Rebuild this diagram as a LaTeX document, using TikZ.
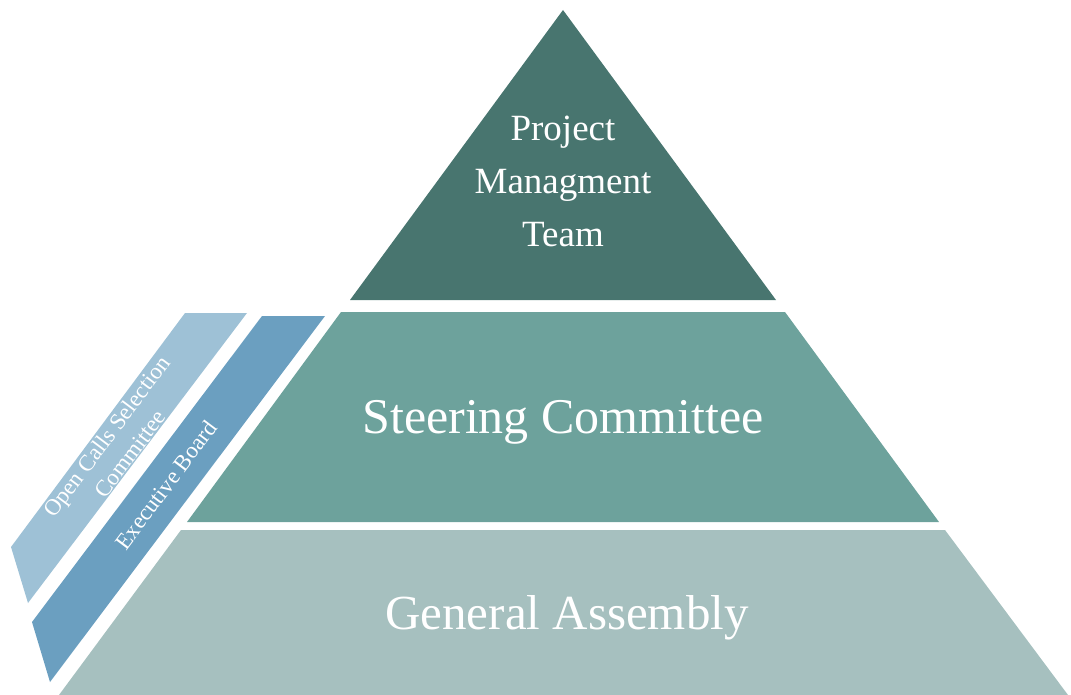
\documentclass[tikz,border=0pt]{standalone}
\usepackage{fontspec}
\setmainfont{Liberation Serif}
\definecolor{pmtc}{HTML}{48756F}
\definecolor{scc}{HTML}{6DA29C}
\definecolor{gac}{HTML}{A6C0BF}
\definecolor{occ}{HTML}{9EC1D6}
\definecolor{ebc}{HTML}{6B9FC0}
\begin{document}
\begin{tikzpicture}[x=1pt,y=-1pt,
  lbl/.style={text=white, inner sep=0pt, align=center},
  stripfont/.style={font=\fontsize{23}{29}\selectfont, rotate=53.13}]
\useasboundingbox (0,0) rectangle (1071,695);
% pyramid levels
\fill[pmtc] (563,10) -- (776,300) -- (350,300) -- cycle;
\fill[scc] (341,312) -- (785,312) -- (939,522) -- (187,522) -- cycle;
\fill[gac] (181,530) -- (945,530) -- (1068,695) -- (59,695) -- cycle;
% side strips
\fill[occ] (185,313) -- (247,313) -- (28,603) -- (11,547) -- cycle;
\fill[ebc] (262,316) -- (325,316) -- (50,682) -- (32,622) -- cycle;
% labels
\node[lbl, font=\fontsize{37}{53}\selectfont] (pmt) at (563,181) {Project\\Managment\\Team};
\node[lbl, anchor=base, font=\fontsize{50}{56}\selectfont] (sc) at (563,433) {Steering Committee};
\node[lbl, anchor=base, font=\fontsize{49}{56}\selectfont] (ga) at (567,629) {General Assembly};
\node[lbl, stripfont] (oc) at (118.5,445) {Open Calls Selection\\Committee};
\node[lbl, stripfont] (eb) at (166,485) {Executive Board};
\end{tikzpicture}
\end{document}
